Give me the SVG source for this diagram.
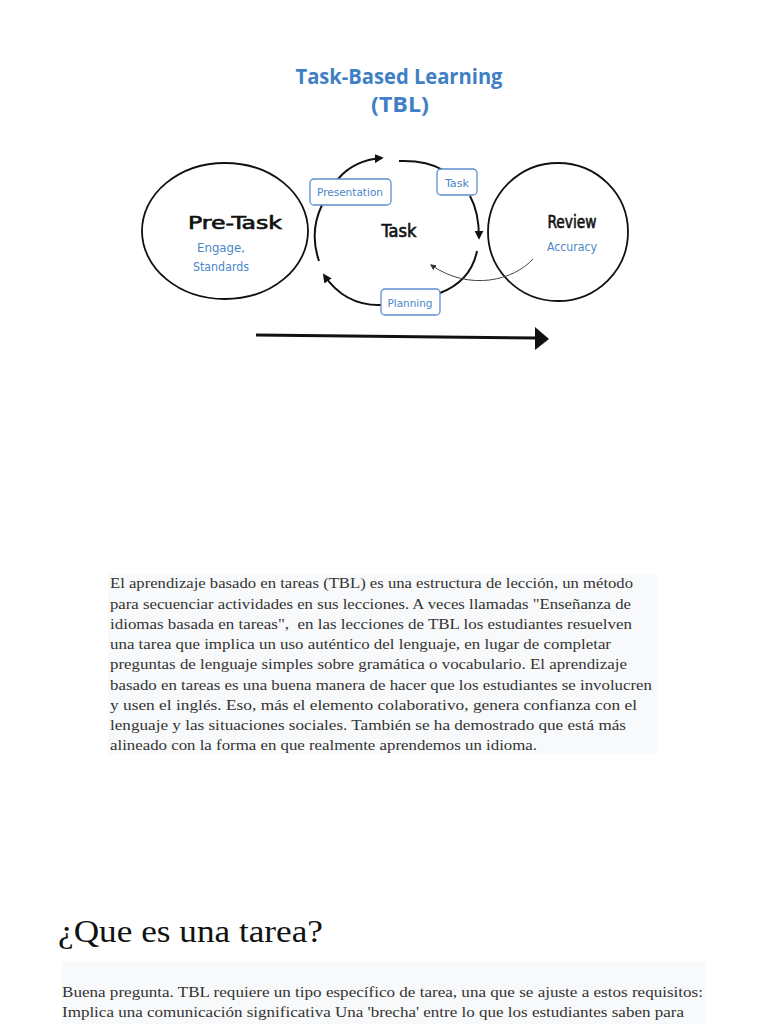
<svg xmlns="http://www.w3.org/2000/svg" width="768" height="1024" viewBox="0 0 768 1024">
<style>
.title{font-family:"Open Sans","DejaVu Sans",sans-serif;font-weight:bold;font-size:22px;fill:#3f7fc6}
.hand{font-family:"DejaVu Sans Condensed","DejaVu Sans",sans-serif;fill:#111}
.big{font-size:18px;stroke:#111;stroke-width:0.6}
.sub{font-size:12px;fill:#4a86c8;stroke:none}
.lbl{font-family:"DejaVu Sans Condensed","DejaVu Sans",sans-serif;font-size:11px;fill:#4a86c8}
.node{fill:none;stroke:#111;stroke-width:1.8}
.box{fill:#fff;stroke:#5b8fd0;stroke-width:1.3}
.conn{fill:none;stroke:#111;stroke-width:2}
.thin{fill:none;stroke:#444;stroke-width:1}
.para{font-family:"Liberation Serif","Times New Roman",serif;font-size:15px;fill:#333}
.head{font-family:"Liberation Serif","Times New Roman",serif;font-size:32px;fill:#111}
</style>
<defs>
<marker id="ah" viewBox="0 0 10 10" refX="8" refY="5" markerWidth="9" markerHeight="9" orient="auto" markerUnits="userSpaceOnUse">
<path d="M0,0 L10,5 L0,10 z" fill="#111"/>
</marker>
<marker id="ahs" viewBox="0 0 10 10" refX="8" refY="5" markerWidth="6" markerHeight="6" orient="auto" markerUnits="userSpaceOnUse">
<path d="M0,0 L10,5 L0,10 z" fill="#333"/>
</marker>
</defs>
<rect width="768" height="1024" fill="#fff"/>
<g id="title">
<text class="title" x="399" y="84" text-anchor="middle" textLength="207" lengthAdjust="spacingAndGlyphs">Task-Based Learning</text>
<text class="title" x="400" y="112" text-anchor="middle" textLength="58" lengthAdjust="spacingAndGlyphs">(TBL)</text>
</g>
<g id="pretask">
<ellipse class="node" cx="225" cy="231" rx="83" ry="68"/>
<text class="hand big" x="235" y="229" text-anchor="middle" textLength="94" lengthAdjust="spacingAndGlyphs">Pre-Task</text>
<text class="hand sub" x="221" y="252" text-anchor="middle" textLength="48" lengthAdjust="spacingAndGlyphs">Engage,</text>
<text class="hand sub" x="221" y="271" text-anchor="middle" textLength="56" lengthAdjust="spacingAndGlyphs">Standards</text>
</g>
<g id="task">
<text class="hand big" x="399" y="237" text-anchor="middle" textLength="35" lengthAdjust="spacingAndGlyphs">Task</text>
</g>
<g id="review">
<ellipse class="node" cx="558" cy="232" rx="70" ry="69"/>
<text class="hand big" x="572" y="228" text-anchor="middle" textLength="49" lengthAdjust="spacingAndGlyphs">Review</text>
<text class="hand sub" x="572" y="251" text-anchor="middle" textLength="50" lengthAdjust="spacingAndGlyphs">Accuracy</text>
</g>
<g id="connectors">
<path class="conn" d="M338,179 Q354,160 382,158" marker-end="url(#ah)"/>
<path class="conn" d="M399,161 Q426,160 443,170"/>
<path class="conn" d="M470,196 Q479,212 479,238" marker-end="url(#ah)"/>
<path class="conn" d="M477,251 Q471,281 440,293"/>
<path class="conn" d="M381,305 Q345,306 324,275" marker-end="url(#ah)"/>
<path class="conn" d="M319,261 Q309,232 322,205"/>
<path class="thin" d="M533,259 C514,280 470,292 431,265" marker-end="url(#ahs)"/>
<path d="M256,335 L538,338" stroke="#111" stroke-width="3" fill="none"/>
<polygon points="535,327 549,339 535,350" fill="#111"/>
</g>
<g id="presentation">
<rect class="box" x="310" y="179" width="81" height="26" rx="4"/>
<text class="lbl" x="350" y="196" text-anchor="middle" textLength="66" lengthAdjust="spacingAndGlyphs">Presentation</text>
</g>
<g id="taskbox">
<rect class="box" x="437" y="169" width="40" height="26" rx="4"/>
<text class="lbl" x="457" y="187" text-anchor="middle" textLength="24" lengthAdjust="spacingAndGlyphs">Task</text>
</g>
<g id="planning">
<rect class="box" x="381" y="289" width="59" height="26" rx="4"/>
<text class="lbl" x="410" y="307" text-anchor="middle" textLength="45" lengthAdjust="spacingAndGlyphs">Planning</text>
</g>
<g id="paragraph">
<rect x="108" y="574" width="549" height="180" fill="#f8f9fa"/>
<text class="para" x="110" y="588" textLength="523" lengthAdjust="spacingAndGlyphs">El aprendizaje basado en tareas (TBL) es una estructura de lección, un método</text>
<text class="para" x="110" y="609" textLength="521" lengthAdjust="spacingAndGlyphs">para secuenciar actividades en sus lecciones. A veces llamadas "Enseñanza de</text>
<text class="para" x="110" y="629" textLength="522" lengthAdjust="spacingAndGlyphs" xml:space="preserve">idiomas basada en tareas",  en las lecciones de TBL los estudiantes resuelven</text>
<text class="para" x="110" y="649" textLength="501" lengthAdjust="spacingAndGlyphs">una tarea que implica un uso auténtico del lenguaje, en lugar de completar</text>
<text class="para" x="110" y="669" textLength="517" lengthAdjust="spacingAndGlyphs">preguntas de lenguaje simples sobre gramática o vocabulario. El aprendizaje</text>
<text class="para" x="110" y="690" textLength="542" lengthAdjust="spacingAndGlyphs">basado en tareas es una buena manera de hacer que los estudiantes se involucren</text>
<text class="para" x="110" y="710" textLength="527" lengthAdjust="spacingAndGlyphs">y usen el inglés. Eso, más el elemento colaborativo, genera confianza con el</text>
<text class="para" x="110" y="730" textLength="516" lengthAdjust="spacingAndGlyphs">lenguaje y las situaciones sociales. También se ha demostrado que está más</text>
<text class="para" x="110" y="750" textLength="427" lengthAdjust="spacingAndGlyphs">alineado con la forma en que realmente aprendemos un idioma.</text>
</g>
<g id="heading">
<text class="head" x="58" y="942" textLength="265" lengthAdjust="spacingAndGlyphs">¿Que es una tarea?</text>
</g>
<g id="paragraph2">
<rect x="62" y="962" width="643" height="62" fill="#f8f9fa"/>
<text class="para" x="62" y="997" textLength="641" lengthAdjust="spacingAndGlyphs">Buena pregunta. TBL requiere un tipo específico de tarea, una que se ajuste a estos requisitos:</text>
<text class="para" x="62" y="1017" textLength="622" lengthAdjust="spacingAndGlyphs">Implica una comunicación significativa Una 'brecha' entre lo que los estudiantes saben para</text>
</g>
</svg>
